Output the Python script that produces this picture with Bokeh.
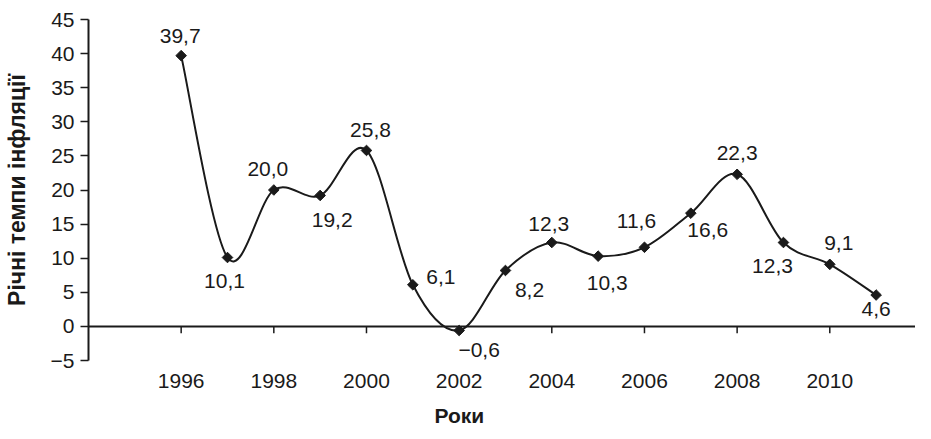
from bokeh.plotting import figure
from bokeh.models import ColumnDataSource, FixedTicker, Span, Title
from bokeh.core.properties import value
from bokeh.embed import file_html
from bokeh.resources import INLINE

# ---- data ----
years = [1996, 1997, 1998, 1999, 2000, 2001, 2002, 2003,
         2004, 2005, 2006, 2007, 2008, 2009, 2010, 2011]
inflation = [39.7, 10.1, 20.0, 19.2, 25.8, 6.1, -0.6, 8.2,
             12.3, 10.3, 11.6, 16.6, 22.3, 12.3, 9.1, 4.6]
x_tick_labels = [1996, 1998, 2000, 2002, 2004, 2006, 2008, 2010]
x_tick_marks = [1996, 1998, 2000, 2002, 2004, 2006, 2008, 2010]
y_ticks = [-5, 0, 5, 10, 15, 20, 25, 30, 35, 40, 45]
y_title = "Річні темпи інфляції"
x_title = "Роки"

# label placement (style, screen px offsets from each point)
label_dx = [-1, -3, -6, 12, 4, 28, 20, 24, -3, 9, -8, 17, 0, -11, 9, 0]
label_dy = [-20, 23, -21, 25, -20, -8, 20, 20, -19, 27, -26, 17, -21, 23, -21, 14]

FONT = "Liberation Sans"
INK = "#1a1a1a"

labels = [f"{v:.1f}".replace(".", ",").replace("-", "\u2212") for v in inflation]

# smooth curve: Catmull-Rom segments expressed as cubic Bezier control points
n = len(years)
bz = dict(x0=[], y0=[], x1=[], y1=[], cx0=[], cy0=[], cx1=[], cy1=[])
for i in range(n - 1):
    a = i - 1 if i > 0 else i
    d = i + 2 if i + 2 < n else i + 1
    bz["x0"].append(years[i]); bz["y0"].append(inflation[i])
    bz["x1"].append(years[i + 1]); bz["y1"].append(inflation[i + 1])
    bz["cx0"].append(years[i] + (years[i + 1] - years[a]) / 6)
    bz["cy0"].append(inflation[i] + (inflation[i + 1] - inflation[a]) / 6)
    bz["cx1"].append(years[i + 1] - (years[d] - years[i]) / 6)
    bz["cy1"].append(inflation[i + 1] - (inflation[d] - inflation[i]) / 6)

p = figure(width=915, height=437, x_range=(1994.0, 2011.85), y_range=(-5, 45),
           output_backend="svg", toolbar_location=None,
           min_border_left=85, min_border_right=0, min_border_top=19, min_border_bottom=75)
p.outline_line_color = None
p.background_fill_color = "white"
p.border_fill_color = "white"
p.xgrid.visible = False
p.ygrid.visible = False

# x axis (labels only; the visible axis line is the zero line)
xa = p.xaxis[0]
xa.ticker = FixedTicker(ticks=x_tick_labels)
xa.axis_line_color = None
xa.major_tick_line_color = None
xa.minor_tick_line_color = None
xa.major_tick_out = 0
xa.major_tick_in = 0
xa.major_label_standoff = 13
xa.major_label_text_font = FONT
xa.major_label_text_font_size = "21px"
xa.major_label_text_color = INK

ya = p.yaxis[0]
ya.ticker = FixedTicker(ticks=y_ticks)
ya.major_label_overrides = {-5: "\u22125"}
ya.axis_line_width = 2
ya.axis_line_color = INK
ya.major_tick_out = 8
ya.major_tick_in = 0
ya.major_tick_line_width = 1.5
ya.major_tick_line_color = INK
ya.minor_tick_line_color = None
ya.major_label_standoff = 6
ya.major_label_text_font = FONT
ya.major_label_text_font_size = "21px"
ya.major_label_text_color = INK
ya.axis_label = y_title
ya.axis_label_text_font = FONT
ya.axis_label_text_font_size = "23px"
ya.axis_label_text_font_style = "bold"
ya.axis_label_text_color = INK
ya.axis_label_standoff = 18

# zero line and its ticks
p.add_layout(Span(location=0, dimension="width", line_color=INK, line_width=2))
p.segment(x0=x_tick_marks, y0=[0] * len(x_tick_marks), x1=x_tick_marks,
          y1=[-1.0] * len(x_tick_marks), line_color=INK, line_width=1.5)

# smooth line
p.bezier(source=ColumnDataSource(bz), x0="x0", y0="y0", x1="x1", y1="y1",
         cx0="cx0", cy0="cy0", cx1="cx1", cy1="cy1", line_color=INK, line_width=2)

src = ColumnDataSource(dict(x=years, y=inflation, t=labels, dx=label_dx, dy=label_dy))
p.scatter(x="x", y="y", source=src, marker="square", size=7.5, angle=0.785398,
          fill_color=INK, line_color=INK)
p.text(x="x", y="y", text="t", x_offset="dx", y_offset="dy", source=src,
       text_font=value(FONT), text_font_size="21px", text_color=INK,
       text_align="center", text_baseline="middle")

p.add_layout(Title(text=x_title, align="left", offset=346, standoff=22,
                   text_font=FONT, text_font_size="21px", text_font_style="bold",
                   text_color=INK), "below")

open("out.html", "w").write(file_html(p, INLINE))
